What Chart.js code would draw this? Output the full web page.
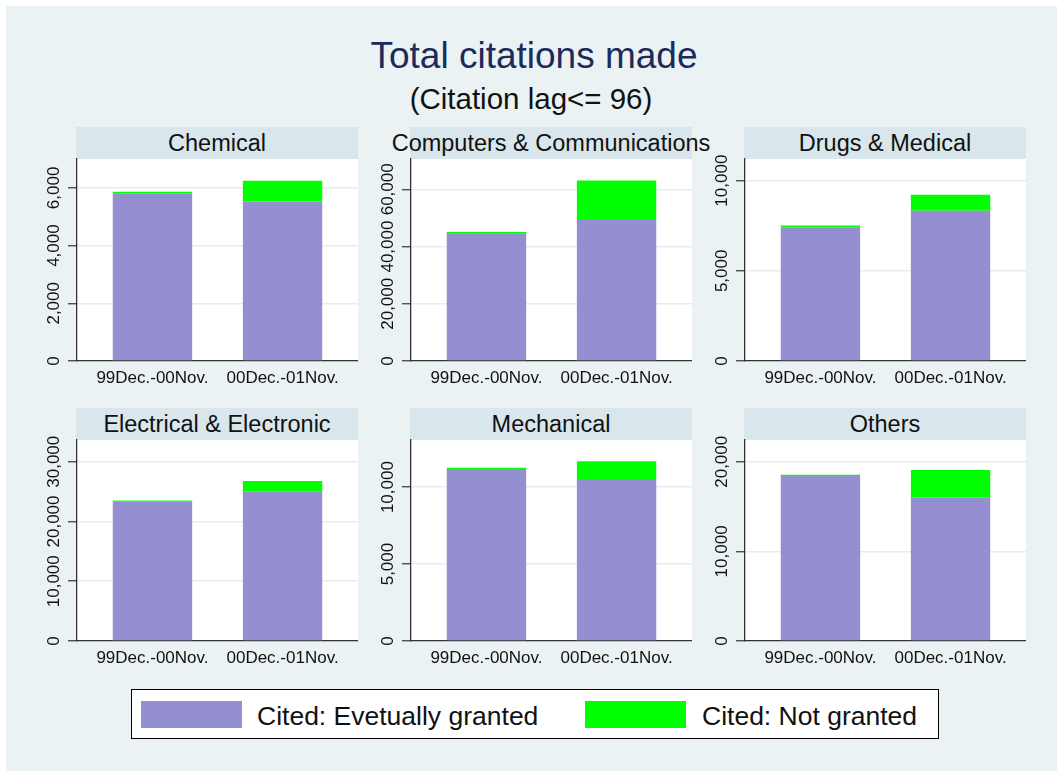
<!DOCTYPE html>
<html>
<head>
<meta charset="utf-8">
<script src="https://cdn.jsdelivr.net/npm/chart.js@4"></script>
<style>
  body { margin: 0; background: #fff; font-family: "Liberation Sans", Arial, sans-serif; }
  #bg { position: absolute; left: 6px; top: 6px; width: 1051px; height: 765px; background: #eaf2f3; }
  .txt { position: absolute; text-align: center; white-space: nowrap; line-height: 1; }
  .hdr { position: absolute; height: 32px; line-height: 32px; background: #d9e6eb; display: flex;
         justify-content: center; font-size: 23.5px; white-space: nowrap; color: #111; overflow: visible; }
  canvas { position: absolute; }
  #legend { position: absolute; left: 131px; top: 689px; width: 806px; height: 48px; border: 1px solid #000; background: #fff; }
  .sw { position: absolute; top: 11px; width: 101px; height: 27px; }
  .lt { position: absolute; top: 12.5px; font-size: 26.5px; line-height: 1; white-space: nowrap; color: #111; }
</style>
</head>
<body>
<div id="bg"></div>
<div class="txt" style="left:0;width:1068px;top:37px;font-size:37px;color:#1c2a5c;">Total citations made</div>
<div class="txt" style="left:0;width:1062px;top:84px;font-size:29.5px;color:#111;">(Citation lag&lt;= 96)</div>
<div id="panels"></div>
<div id="legend"></div>

<script>
// data
const fields = ["Chemical", "Computers & Communications", "Drugs & Medical",
                "Electrical & Electronic", "Mechanical", "Others"];
const periods = ["99Dec.-00Nov.", "00Dec.-01Nov."];
const seriesNames = ["Cited: Evetually granted", "Cited: Not granted"];
const seriesColors = ["#948fd1", "#00ff00"];

const eventuallyGranted = [
  [5810, 5525],
  [44450, 49610],
  [7420, 8330],
  [23300, 24970],
  [11170, 10456],
  [18400, 16050]
];
const notGranted = [
  [55, 725],
  [600, 13440],
  [90, 890],
  [200, 1800],
  [85, 1216],
  [140, 3020]
];
const yTicks = [
  [0, 2000, 4000, 6000],
  [0, 20000, 40000, 60000],
  [0, 5000, 10000],
  [0, 10000, 20000, 30000],
  [0, 5000, 10000],
  [0, 10000, 20000]
];
const yMax = [7000, 70600, 11200, 33640, 13060, 22430];

// panel geometry
const colLeft = [77, 411, 745];
const rowTop = [159, 440];
const plotW = 281, plotH = [202, 201];
const yAxisW = 37, xAxisH = 28, padTop = 14;

Chart.defaults.font.family = '"Liberation Sans", Arial, sans-serif';
Chart.defaults.color = "#111";

const plotBg = {
  id: "plotBg",
  beforeDraw(chart) {
    const { ctx, chartArea: a } = chart;
    ctx.save();
    ctx.fillStyle = "#fff";
    ctx.fillRect(a.left, a.top, a.width, a.height);
    ctx.restore();
  }
};

// stata-style vertical tick labels on the y axis
const yLabels = {
  id: "yLabels",
  afterDraw(chart) {
    const ctx = chart.ctx, y = chart.scales.y;
    ctx.save();
    ctx.font = '17px "Liberation Sans", Arial, sans-serif';
    ctx.fillStyle = "#111";
    ctx.textAlign = "center";
    ctx.textBaseline = "middle";
    y.ticks.forEach((t) => {
      ctx.save();
      ctx.translate(y.right - 23, y.getPixelForValue(t.value));
      ctx.rotate(-Math.PI / 2);
      ctx.fillText(t.value.toLocaleString("en-US"), 0, 0);
      ctx.restore();
    });
    ctx.restore();
  }
};

const holder = document.getElementById("panels");

fields.forEach((name, i) => {
  const col = i % 3, row = Math.floor(i / 3);
  const left = colLeft[col], top = rowTop[row], h = plotH[row];

  const hdr = document.createElement("div");
  hdr.className = "hdr";
  hdr.style.left = (left - 1) + "px";
  hdr.style.top = (top - 32) + "px";
  hdr.style.width = (plotW + 1) + "px";
  const span = document.createElement("span");
  span.textContent = name;
  hdr.appendChild(span);
  holder.appendChild(hdr);

  const cv = document.createElement("canvas");
  cv.width = yAxisW + plotW;
  cv.height = padTop + h + xAxisH;
  cv.style.left = (left - yAxisW) + "px";
  cv.style.top = (top - padTop) + "px";
  holder.appendChild(cv);

  new Chart(cv.getContext("2d"), {
    type: "bar",
    data: {
      datasets: [
        {
          label: seriesNames[0],
          data: eventuallyGranted[i].map((v, k) => ({ x: k, y: v })),
          backgroundColor: seriesColors[0],
          stack: "s"
        },
        {
          label: seriesNames[1],
          data: notGranted[i].map((v, k) => ({ x: k, y: v })),
          backgroundColor: seriesColors[1],
          stack: "s"
        }
      ]
    },
    options: {
      responsive: false,
      animation: false,
      layout: { padding: { top: padTop, left: 0, right: 0, bottom: 0 } },
      barPercentage: 0.61,
      categoryPercentage: 1,
      plugins: { legend: { display: false }, tooltip: { enabled: false } },
      scales: {
        x: {
          type: "linear",
          offset: false,
          min: -0.58,
          max: 1.58,
          afterBuildTicks: (s) => { s.ticks = [{ value: 0 }, { value: 1 }]; },
          afterFit: (s) => { s.height = xAxisH; },
          ticks: {
            font: { size: 17 },
            color: "#111",
            padding: 7,
            maxRotation: 0,
            autoSkip: false,
            callback: (v) => periods[v]
          },
          grid: { offset: false, drawOnChartArea: false, drawTicks: false },
          border: { display: true, color: "#333", width: 1.3 }
        },
        y: {
          stacked: true,
          min: 0,
          max: yMax[i],
          afterBuildTicks: (s) => { s.ticks = yTicks[i].map((v) => ({ value: v })); },
          afterFit: (s) => { s.width = yAxisW; },
          ticks: { display: false },
          grid: { color: "#e4edf0", lineWidth: 1.5, tickLength: 9, tickColor: "#333", tickWidth: 1.2 },
          border: { display: true, color: "#333", width: 1.3 }
        }
      }
    },
    plugins: [plotBg, yLabels]
  });
});

// shared legend
const legend = document.getElementById("legend");
const swLeft = [9, 453], txtLeft = [125, 570];
seriesNames.forEach((s, k) => {
  const sw = document.createElement("div");
  sw.className = "sw";
  sw.style.left = swLeft[k] + "px";
  sw.style.background = seriesColors[k];
  legend.appendChild(sw);
  const t = document.createElement("div");
  t.className = "lt";
  t.style.left = txtLeft[k] + "px";
  t.textContent = s;
  legend.appendChild(t);
});
</script>
</body>
</html>
